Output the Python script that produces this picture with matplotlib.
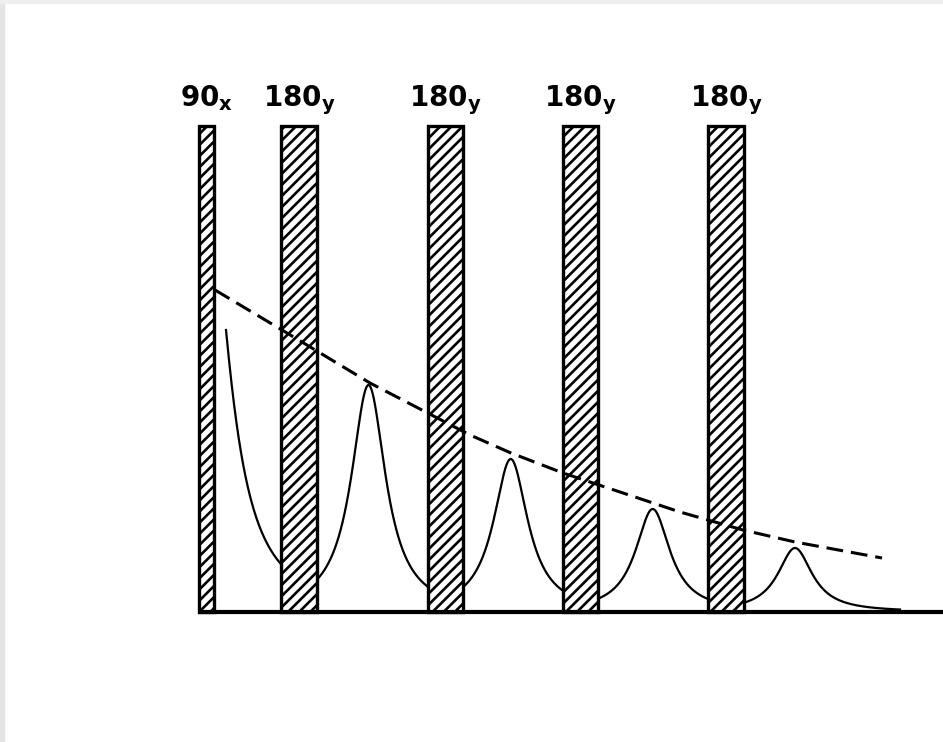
import numpy as np
import matplotlib.pyplot as plt
from matplotlib.patches import Rectangle

# CPMG pulse train: 90x pulse followed by 180y refocusing pulses
# time axis and amplitude in drawing units (baseline at 0)
pulse_labels = [r"$\mathbf{90}_\mathbf{x}$", r"$\mathbf{180}_\mathbf{y}$",
                r"$\mathbf{180}_\mathbf{y}$", r"$\mathbf{180}_\mathbf{y}$",
                r"$\mathbf{180}_\mathbf{y}$"]
pulse_start = [199, 281, 428, 563, 708]
pulse_end = [214, 317, 463, 598, 744]
pulse_height = 486

# free induction decay after the 90 pulse
fid_start = 226
fid_amp0 = 282
fid_centre = 206.5
fid_width = 26

# spin echoes between the 180 pulses
echo_time = [368.5, 510.7, 652.7, 795]
echo_amp = [227, 153, 103, 64]
echo_width = 21
signal_end = 900

# T2 envelope (dashed)
envelope_t = [215, 282, 370, 470, 511, 563, 680, 743, 795, 882]
envelope_amp = [322, 282, 229, 177, 159, 139, 100, 82, 70, 54]

t_max = 943
label_y = 506


def lorentz(t, t0, amp, w):
    return amp / (1 + ((t - t0) / w) ** 2)


plt.rcParams["hatch.linewidth"] = 1.9

fig = plt.figure(figsize=(9.43, 7.42), dpi=100)
ax = fig.add_axes([0, 0, 1, 1])
ax.set_xlim(0, t_max)
ax.set_ylim(-130, 612)
ax.axis("off")

# pulses
for s, e, lab in zip(pulse_start, pulse_end, pulse_labels):
    ax.bar(s, pulse_height, width=e - s, align="edge", color="white",
           edgecolor="black", hatch="///", linewidth=2.4, zorder=3)
    ax.text((s + e) / 2, label_y, lab, ha="center", va="baseline",
            fontsize=20, zorder=5)

# baseline
ax.plot([pulse_start[0] - 1, t_max], [0, 0], color="black", lw=3,
        solid_capstyle="butt", zorder=4)

# FID
A_fid = fid_amp0 * (1 + ((fid_start - fid_centre) / fid_width) ** 2)
t = np.linspace(fid_start, pulse_start[1], 200)
ax.plot(t, lorentz(t, fid_centre, A_fid, fid_width), color="black", lw=1.6,
        zorder=2)

# echoes
seg_start = pulse_end[1:]
seg_end = pulse_start[2:] + [signal_end]
for t0, a, s, e in zip(echo_time, echo_amp, seg_start, seg_end):
    t = np.linspace(s, e, 400)
    ax.plot(t, lorentz(t, t0, a, echo_width), color="black", lw=1.6,
            zorder=2)

# envelope
ax.plot(envelope_t, envelope_amp, color="black", lw=2.2,
        dashes=(5.5, 2.6), zorder=6)

# grey frame strips of the scanned page
fig.add_artist(Rectangle((0, 0), 4 / 943, 1, transform=fig.transFigure,
                         color="#e4e4e4", zorder=10))
fig.add_artist(Rectangle((0, 1 - 3 / 742), 1, 3 / 742,
                         transform=fig.transFigure, color="#eeeeee",
                         zorder=10))

fig.savefig("out.png", dpi=100)
